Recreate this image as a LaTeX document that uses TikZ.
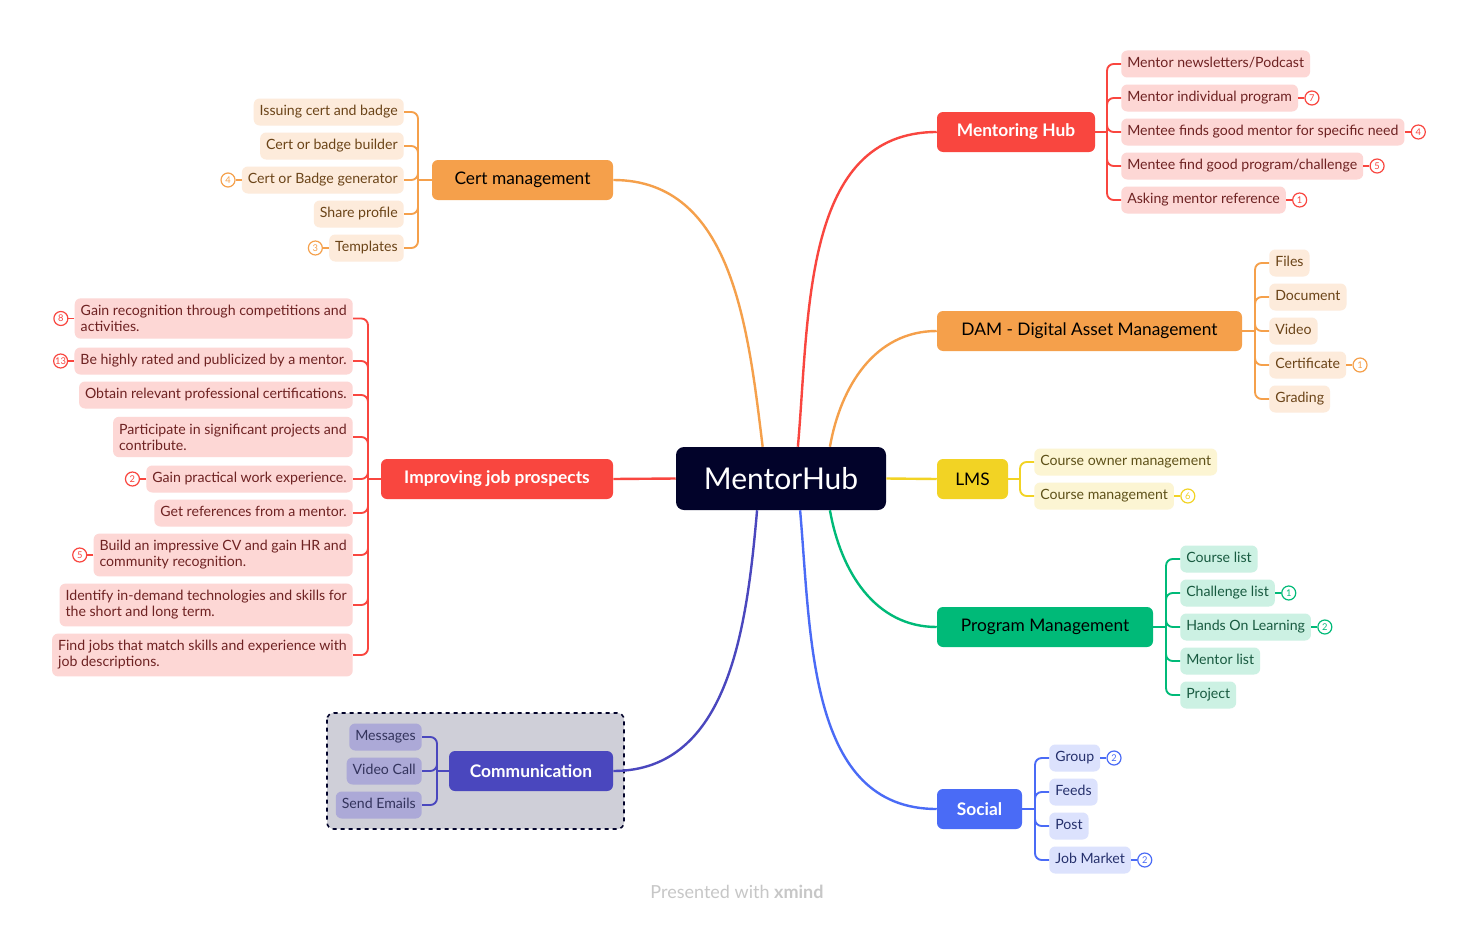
\documentclass[tikz,border=0pt]{standalone}
\usepackage{fontspec}
\setmainfont{Lato}
\usetikzlibrary{positioning}

\definecolor{hubc}{HTML}{02032A}
\definecolor{redc}{HTML}{F9463F}
\definecolor{redlt}{HTML}{FDD7D5}
\definecolor{redtx}{HTML}{6E2222}
\definecolor{orgc}{HTML}{F5A04B}
\definecolor{orglt}{HTML}{FDEBDB}
\definecolor{orgtx}{HTML}{6B4418}
\definecolor{ylwc}{HTML}{F2D324}
\definecolor{ylwlt}{HTML}{FCF5D3}
\definecolor{ylwtx}{HTML}{5E5119}
\definecolor{grnc}{HTML}{00BA78}
\definecolor{grnlt}{HTML}{CCF1E3}
\definecolor{grntx}{HTML}{185A40}
\definecolor{bluc}{HTML}{4A6BF6}
\definecolor{blult}{HTML}{DCE2FD}
\definecolor{blutx}{HTML}{25306C}
\definecolor{indc}{HTML}{4A47BE}
\definecolor{indlt}{HTML}{ACA9D7}
\definecolor{indtx}{HTML}{33335C}
\definecolor{grpbg}{HTML}{CFCFD8}

\tikzset{
    hubbox/.style={fill=hubc, text=white, rounded corners=6pt, minimum width=157.5pt, minimum height=47.25pt, font=\fontsize{22.5}{26}\selectfont},
    topic/.style={fill=#1c, rounded corners=4.5pt, minimum height=30pt, inner sep=0pt, font=\fontsize{13}{15}\selectfont},
    topicw/.style={topic=#1, text=white, font=\fontsize{13}{15}\selectfont\bfseries},
    leaf/.style={fill=#1lt, text=#1tx, rounded corners=4.5pt, inner xsep=4.5pt, inner ysep=0pt, minimum height=20.25pt, text height=7.6pt, text depth=2.3pt, font=\fontsize{10.6}{12}\selectfont},
    leafml/.style={fill=#1lt, text=#1tx, rounded corners=4.5pt, inner xsep=4.5pt, inner ysep=5.2pt, align=left, font=\fontsize{10.6}{12}\selectfont},
    badge/.style={circle, draw=#1c, text=#1c, fill=white, line width=0.9pt, minimum size=10.5pt, inner sep=0pt, font=\fontsize{7}{8}\selectfont},
    branch/.style={draw=#1c, line width=1.8pt},
    twig/.style={draw=#1c, line width=1.4pt, rounded corners=5pt},
    groupbox/.style={fill=grpbg, draw=hubc, dashed, line width=1.2pt, rounded corners=5pt},
}

\begin{document}
\begin{tikzpicture}[x=0.75pt, y=-0.75pt]
    \fill[white] (0,0) rectangle (1476,924);
    \draw[groupbox] (327,713) rectangle (624,829);

    \node[hubbox] (hub) at (781,478.5) {MentorHub};

    % right side topics
    \node[topicw=red, minimum width=118.5pt] (mh) at (1016,132) {Mentoring Hub};
    \node[topic=org, minimum width=228.75pt] (dam) at (1089.5,331) {DAM - Digital Asset Management};
    \node[topic=ylw, minimum width=53.25pt] (lms) at (972.5,479) {LMS};
    \node[topic=grn, minimum width=162pt] (pm) at (1045,627) {Program Management};
    \node[topicw=blu, minimum width=63.75pt] (soc) at (979.5,809) {Social};
    % left side topics
    \node[topic=org, minimum width=135.75pt] (cert) at (522.5,180) {Cert management};
    \node[topicw=red, minimum width=174pt] (imp) at (497,479) {Improving job prospects};
    \node[topicw=ind, minimum width=123pt] (com) at (531,771) {Communication};

    % hub to topics
    \draw[branch=org] (hub.120) to[out=97, in=0] (cert.east);
    \draw[branch=red] (hub.62) to[out=85, in=180] (mh.west);
    \draw[branch=org] (hub.33) to[out=80, in=180] (dam.west);
    \draw[branch=ylw] (hub.east) -- (lms.west);
    \draw[branch=red] (hub.west) -- (imp.east);
    \draw[branch=grn] (hub.327) to[out=-80, in=180] (pm.west);
    \draw[branch=blu] (hub.301) to[out=-85, in=180] (soc.west);
    \draw[branch=ind] (hub.233) to[out=-95, in=0] (com.east);

    % Mentoring Hub
    \node[leaf=red, anchor=west] (m1) at (1121,64) {Mentor newsletters/Podcast};
    \node[leaf=red, anchor=west] (m2) at (1121,98) {Mentor individual program};
    \node[leaf=red, anchor=west] (m3) at (1121,132) {Mentee finds good mentor for specific need};
    \node[leaf=red, anchor=west] (m4) at (1121,166) {Mentee find good program/challenge};
    \node[leaf=red, anchor=west] (m5) at (1121,200) {Asking mentor reference};
    \node[badge=red, right=4.5pt of m2] (bm2) {7};
    \node[badge=red, right=4.5pt of m3] (bm3) {4};
    \node[badge=red, right=4.5pt of m4] (bm4) {5};
    \node[badge=red, right=4.5pt of m5] (bm5) {1};
    \coordinate (mhsp) at (1107,132);
    \draw[twig=red] (mh.east) -- (mhsp);
    \foreach \c in {m1,m2,m3,m4,m5} \draw[twig=red] (mhsp) |- (\c.west);
    \foreach \c in {m2,m3,m4,m5} \draw[twig=red, line width=1pt] (\c) -- (b\c);

    % DAM
    \node[leaf=org, anchor=west] (d1) at (1269,263) {Files};
    \node[leaf=org, anchor=west] (d2) at (1269,297) {Document};
    \node[leaf=org, anchor=west] (d3) at (1269,331) {Video};
    \node[leaf=org, anchor=west] (d4) at (1269,365) {Certificate};
    \node[leaf=org, anchor=west] (d5) at (1269,399) {Grading};
    \node[badge=org, right=4.5pt of d4] (bd4) {1};
    \coordinate (damsp) at (1255,331);
    \draw[twig=org] (dam.east) -- (damsp);
    \foreach \c in {d1,d2,d3,d4,d5} \draw[twig=org] (damsp) |- (\c.west);
    \draw[twig=org, line width=1pt] (d4) -- (bd4);

    % LMS
    \node[leaf=ylw, anchor=west] (l1) at (1034,462) {Course owner management};
    \node[leaf=ylw, anchor=west] (l2) at (1034,496) {Course management};
    \node[badge=ylw, right=4.5pt of l2] (bl2) {6};
    \coordinate (lmssp) at (1020,479);
    \draw[twig=ylw] (lms.east) -- (lmssp);
    \foreach \c in {l1,l2} \draw[twig=ylw] (lmssp) |- (\c.west);
    \draw[twig=ylw, line width=1pt] (l2) -- (bl2);

    % Program Management
    \node[leaf=grn, anchor=west] (p1) at (1180,559) {Course list};
    \node[leaf=grn, anchor=west] (p2) at (1180,593) {Challenge list};
    \node[leaf=grn, anchor=west] (p3) at (1180,627) {Hands On Learning};
    \node[leaf=grn, anchor=west] (p4) at (1180,661) {Mentor list};
    \node[leaf=grn, anchor=west] (p5) at (1180,695) {Project};
    \node[badge=grn, right=4.5pt of p2] (bp2) {1};
    \node[badge=grn, right=4.5pt of p3] (bp3) {2};
    \coordinate (pmsp) at (1166,627);
    \draw[twig=grn] (pm.east) -- (pmsp);
    \foreach \c in {p1,p2,p3,p4,p5} \draw[twig=grn] (pmsp) |- (\c.west);
    \foreach \c in {p2,p3} \draw[twig=grn, line width=1pt] (\c) -- (b\c);

    % Social
    \node[leaf=blu, anchor=west] (s1) at (1049,758) {Group};
    \node[leaf=blu, anchor=west] (s2) at (1049,792) {Feeds};
    \node[leaf=blu, anchor=west] (s3) at (1049,826) {Post};
    \node[leaf=blu, anchor=west] (s4) at (1049,860) {Job Market};
    \node[badge=blu, right=4.5pt of s1] (bs1) {2};
    \node[badge=blu, right=4.5pt of s4] (bs4) {2};
    \coordinate (socsp) at (1035,809);
    \draw[twig=blu] (soc.east) -- (socsp);
    \foreach \c in {s1,s2,s3,s4} \draw[twig=blu] (socsp) |- (\c.west);
    \foreach \c in {s1,s4} \draw[twig=blu, line width=1pt] (\c) -- (b\c);

    % Cert management
    \node[leaf=org, anchor=east] (c1) at (404,112) {Issuing cert and badge};
    \node[leaf=org, anchor=east] (c2) at (404,146) {Cert or badge builder};
    \node[leaf=org, anchor=east] (c3) at (404,180) {Cert or Badge generator};
    \node[leaf=org, anchor=east] (c4) at (404,214) {Share profile};
    \node[leaf=org, anchor=east] (c5) at (404,248) {Templates};
    \node[badge=org, left=4.5pt of c3] (bc3) {4};
    \node[badge=org, left=4.5pt of c5] (bc5) {3};
    \coordinate (certsp) at (418,180);
    \draw[twig=org] (cert.west) -- (certsp);
    \foreach \c in {c1,c2,c3,c4,c5} \draw[twig=org] (certsp) |- (\c.east);
    \foreach \c in {c3,c5} \draw[twig=org, line width=1pt] (\c) -- (b\c);

    % Improving job prospects
    \node[leafml=red, anchor=east] (i1) at (353,318.5) {Gain recognition through competitions and\\activities.};
    \node[leaf=red, anchor=east] (i2) at (353,361) {Be highly rated and publicized by a mentor.};
    \node[leaf=red, anchor=east] (i3) at (353,395) {Obtain relevant professional certifications.};
    \node[leafml=red, anchor=east] (i4) at (353,437) {Participate in significant projects and\\contribute.};
    \node[leaf=red, anchor=east] (i5) at (353,479) {Gain practical work experience.};
    \node[leaf=red, anchor=east] (i6) at (353,513) {Get references from a mentor.};
    \node[leafml=red, anchor=east] (i7) at (353,555) {Build an impressive CV and gain HR and\\community recognition.};
    \node[leafml=red, anchor=east] (i8) at (353,605) {Identify in-demand technologies and skills for\\the short and long term.};
    \node[leafml=red, anchor=east] (i9) at (353,655) {Find jobs that match skills and experience with\\job descriptions.};
    \node[badge=red, left=4.5pt of i1] (bi1) {8};
    \node[badge=red, left=4.5pt of i2] (bi2) {13};
    \node[badge=red, left=4.5pt of i5] (bi5) {2};
    \node[badge=red, left=4.5pt of i7] (bi7) {5};
    \coordinate (impsp) at (368,479);
    \draw[twig=red] (imp.west) -- (impsp);
    \foreach \c in {i1,i2,i3,i4,i5,i6,i7,i8,i9} \draw[twig=red] (impsp) |- (\c.east);
    \foreach \c in {i1,i2,i5,i7} \draw[twig=red, line width=1pt] (\c) -- (b\c);

    % Communication
    \node[leaf=ind, anchor=east] (k1) at (422,737) {Messages};
    \node[leaf=ind, anchor=east] (k2) at (422,771) {Video Call};
    \node[leaf=ind, anchor=east] (k3) at (422,805) {Send Emails};
    \coordinate (comsp) at (437,771);
    \draw[twig=ind] (com.west) -- (comsp);
    \foreach \c in {k1,k2,k3} \draw[twig=ind] (comsp) |- (\c.east);

    \node[text=black!22, font=\fontsize{13.5}{15}\selectfont] (credit) at (737,892) {Presented with \textbf{xmind}};
\end{tikzpicture}
\end{document}
